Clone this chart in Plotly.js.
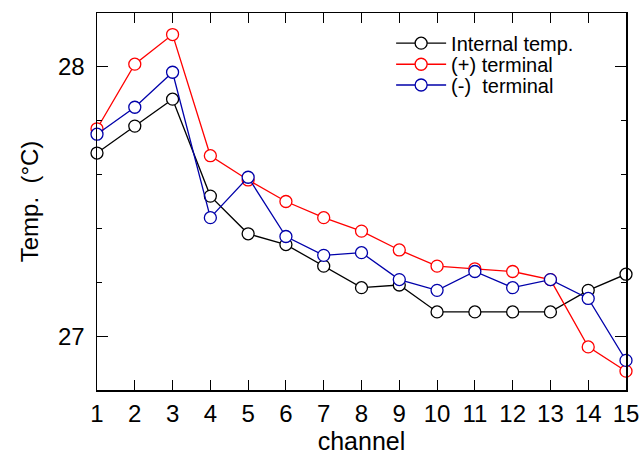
<!DOCTYPE html>
<html><head><meta charset="utf-8">
<script src="https://cdn.plot.ly/plotly-3.0.1.min.js"></script>
<style>body{margin:0;padding:0;background:#fff}#chart{width:640px;height:455px}</style>
</head><body><div id="chart"></div>
<script>
const channels = [1,2,3,4,5,6,7,8,9,10,11,12,13,14,15];
const internalTemp = [27.68,27.78,27.88,27.52,27.38,27.34,27.26,27.18,27.19,27.09,27.09,27.09,27.09,27.17,27.23];
const plusTerminal = [27.77,28.01,28.12,27.67,27.58,27.50,27.44,27.39,27.32,27.26,27.25,27.24,27.21,26.96,26.87];
const minusTerminal = [27.75,27.85,27.98,27.44,27.59,27.37,27.30,27.31,27.21,27.17,27.24,27.18,27.21,27.14,26.91];
const names = ['Internal temp.', '(+) terminal', '(-)\u00a0 terminal'];
const colors = ['#000000', '#ff0000', '#0000aa'];
const series = [internalTemp, plusTerminal, minusTerminal];
const legendIds = ['legend', 'legend2', 'legend3'];
const legendY = [0.92, 0.864, 0.809];

const traces = series.map((ys, i) => ({
  x: channels, y: ys, name: names[i], type: 'scatter', mode: 'lines+markers',
  legend: legendIds[i],
  line: {color: colors[i], width: 1.3},
  marker: {symbol: 'circle', size: 12, color: '#ffffff', line: {color: colors[i], width: 1.3}},
  cliponaxis: false
}));

const font = {family: 'Liberation Sans, Arial, sans-serif', color: '#000'};
const layout = {
  width: 640, height: 455,
  margin: {l: 97, r: 14, t: 13, b: 65},
  paper_bgcolor: '#fff', plot_bgcolor: '#fff',
  font: Object.assign({size: 18}, font),
  showlegend: true,
  xaxis: {
    range: [1, 15], tickvals: channels, ticktext: channels.map(String),
    ticks: 'inside', ticklen: 10, tickwidth: 1, tickcolor: '#000',
    showline: true, linecolor: '#000', linewidth: 1.5, mirror: 'ticks',
    showgrid: false, zeroline: false, ticklabelstandoff: 2,
    tickfont: Object.assign({size: 24}, font),
    title: {text: 'channel', font: Object.assign({size: 25}, font), standoff: 0}
  },
  yaxis: {
    range: [26.8, 28.2], tickvals: [27, 28], ticktext: ['27', '28'],
    ticks: 'inside', ticklen: 11, tickwidth: 1, tickcolor: '#000',
    minor: {tickvals: [26.8, 27.2, 27.4, 27.6, 27.8, 28.2], ticks: 'inside', ticklen: 5, tickwidth: 1, tickcolor: '#000', showgrid: false},
    showline: true, linecolor: '#000', linewidth: 1.5, mirror: 'ticks',
    showgrid: false, zeroline: false, ticklabelstandoff: 6,
    tickfont: Object.assign({size: 24}, font),
    title: {text: 'Temp.\u00a0 (°C)', font: Object.assign({size: 24}, font), standoff: 12}
  }
};
legendIds.forEach((id, i) => {
  layout[id] = {x: 0.556, y: legendY[i], xanchor: 'left', yanchor: 'middle', bgcolor: 'rgba(0,0,0,0)',
    font: Object.assign({size: 20}, font), itemwidth: 50};
});
Plotly.newPlot('chart', traces, layout, {displayModeBar: false, staticPlot: true});
</script></body></html>
